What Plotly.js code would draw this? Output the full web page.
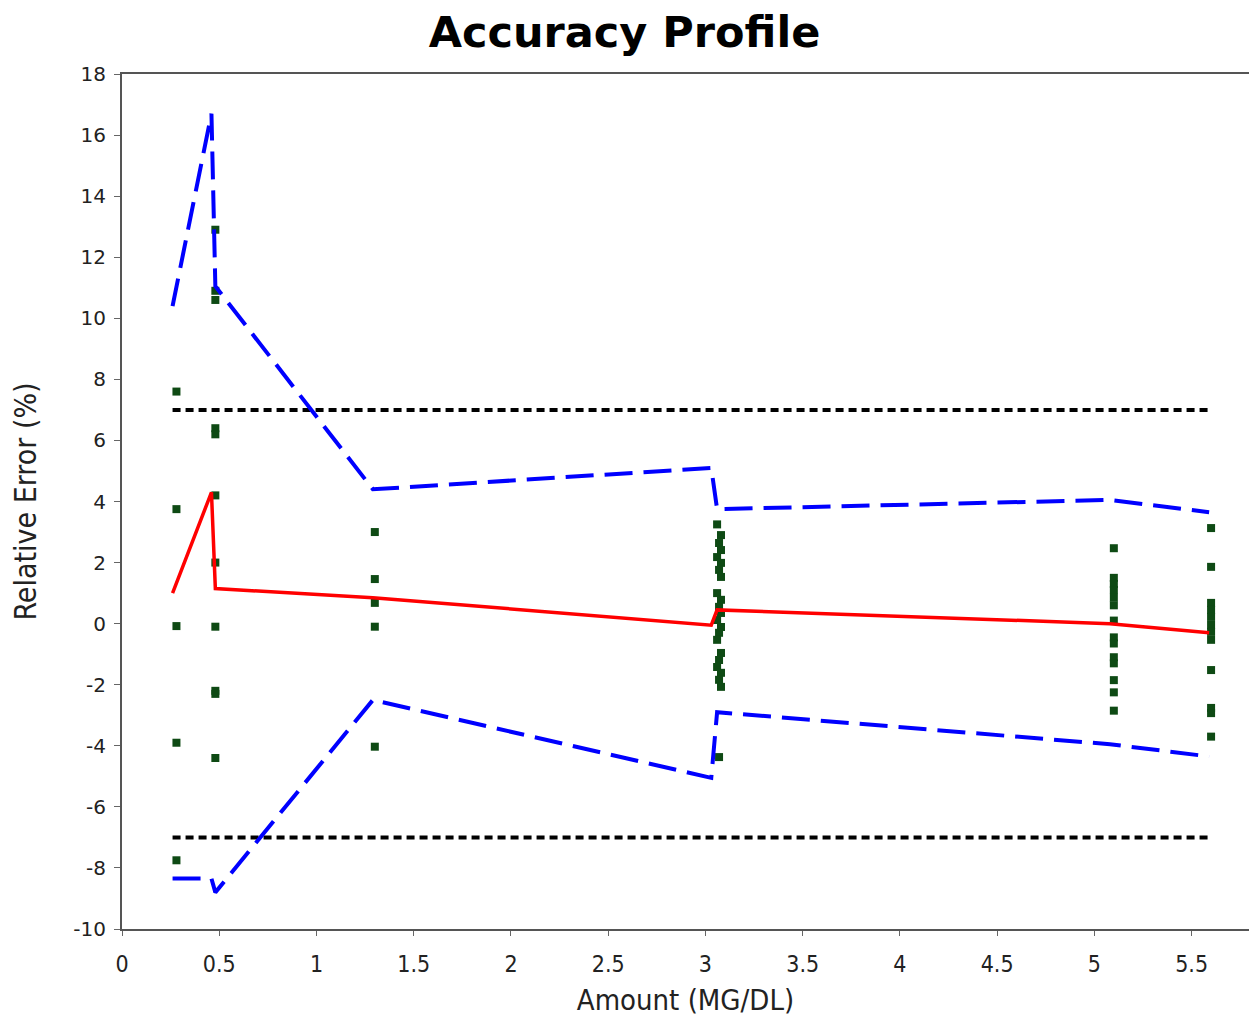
<!DOCTYPE html>
<html>
<head>
<meta charset="utf-8">
<script src="https://cdn.plot.ly/plotly-3.0.1.min.js"></script>
<style>
  html, body { margin: 0; padding: 0; background: #ffffff; }
  #chart { width: 1249px; height: 1019px; }
</style>
</head>
<body>
<div id="chart"></div>
<script>
// ---- Data ----
// Level amounts used by the mean / tolerance-interval lines
const levelAmounts = [0.26, 0.46, 0.48, 1.29, 3.03, 3.06, 5.08, 5.59];
const meanError    = [1.0, 4.3, 1.15, 0.85, -0.05, 0.45, 0.0, -0.3];
const upperLimit   = [10.4, 16.7, 11.05, 4.4, 5.1, 3.75, 4.05, 3.65];
const lowerLimit   = [-8.35, -8.35, -8.8, -2.5, -5.05, -2.9, -3.95, -4.35];

// Acceptance limits (±7 %)
const acceptX      = [0.26, 5.6];
const acceptUpper  = [7, 7];
const acceptLower  = [-7, -7];

// Individual relative errors per level
const amounts1 = [0.28, 0.28, 0.28, 0.28, 0.28];
const errors1  = [7.6, 3.75, -0.08, -3.9, -7.75];

const amounts2 = [0.48, 0.48, 0.48, 0.48, 0.48, 0.48, 0.48, 0.48, 0.48, 0.48, 0.48];
const errors2  = [12.9, 10.9, 10.6, 6.4, 6.2, 4.2, 2.0, -0.1, -2.2, -2.3, -4.4];

const amounts3 = [1.3, 1.3, 1.3, 1.3, 1.3];
const errors3  = [3.0, 1.46, 0.68, -0.1, -4.03];

const amounts4 = [3.06, 3.08, 3.07, 3.08, 3.06, 3.08, 3.07, 3.08, 3.06, 3.08, 3.07, 3.08,
                  3.06, 3.08, 3.07, 3.06, 3.08, 3.07, 3.06, 3.08, 3.07, 3.08, 3.07];
const errors4  = [3.25, 2.9, 2.64, 2.41, 2.18, 1.99, 1.76, 1.53, 1.0, 0.78, 0.55, 0.35,
                  0.12, -0.11, -0.3, -0.53, -0.96, -1.19, -1.42, -1.61, -1.84, -2.07, -4.37];

const amounts5 = [5.1, 5.1, 5.1, 5.1, 5.1, 5.1, 5.1, 5.1, 5.1, 5.1, 5.1, 5.1, 5.1, 5.1];
const errors5  = [2.47, 1.5, 1.3, 1.1, 0.85, 0.6, 0.1, -0.45, -0.65, -1.1, -1.3, -1.85, -2.25, -2.85];

const amounts6 = [5.6, 5.6, 5.6, 5.6, 5.6, 5.6, 5.6, 5.6, 5.6, 5.6, 5.6, 5.6];
const errors6  = [3.13, 1.86, 0.68, 0.45, 0.22, -0.04, -0.27, -0.53, -1.52, -2.76, -2.93, -3.7];

// Axis tick labels
const xTickVals = [0, 0.5, 1, 1.5, 2, 2.5, 3, 3.5, 4, 4.5, 5, 5.5];
const yTickVals = [18, 16, 14, 12, 10, 8, 6, 4, 2, 0, -2, -4, -6, -8, -10];

// ---- Traces ----
const dotAmounts = [].concat(amounts1, amounts2, amounts3, amounts4, amounts5, amounts6);
const dotErrors  = [].concat(errors1, errors2, errors3, errors4, errors5, errors6);

const traces = [
  {
    x: acceptX, y: acceptUpper, mode: 'lines', showlegend: false, hoverinfo: 'skip',
    line: { color: '#000000', width: 4, dash: '8px,5px' }
  },
  {
    x: acceptX, y: acceptLower, mode: 'lines', showlegend: false, hoverinfo: 'skip',
    line: { color: '#000000', width: 4, dash: '8px,5px' }
  },
  {
    x: dotAmounts, y: dotErrors, mode: 'markers', showlegend: false,
    marker: { symbol: 'square', size: 8, color: '#0e4a14' }
  },
  {
    x: levelAmounts, y: upperLimit, mode: 'lines', showlegend: false,
    line: { color: '#0000ff', width: 4, dash: '28px,11px' }
  },
  {
    x: levelAmounts, y: lowerLimit, mode: 'lines', showlegend: false,
    line: { color: '#0000ff', width: 4, dash: '28px,11px' }
  },
  {
    x: levelAmounts, y: meanError, mode: 'lines', showlegend: false,
    line: { color: '#ff0000', width: 3.5 }
  }
];

const narrowFamily = 'Liberation Sans Narrow, DejaVu Sans Condensed, Roboto, sans-serif';
const tickFontY = { family: 'DejaVu Sans, Verdana, sans-serif', size: 20, color: '#222222' };
const tickFontX = { family: narrowFamily, size: 23, color: '#222222' };

const layout = {
  width: 1249,
  height: 1019,
  paper_bgcolor: '#ffffff',
  plot_bgcolor: '#ffffff',
  margin: { l: 122, r: 0, t: 74, b: 90, pad: 0 },
  title: {
    text: '<b>Accuracy Profile</b>',
    font: { family: 'DejaVu Sans, Verdana, sans-serif', size: 43, color: '#000000' },
    x: 0.5, xref: 'container', xanchor: 'center',
    y: 0.969, yref: 'container', yanchor: 'middle'
  },
  xaxis: {
    range: [0, 5.795],
    tickvals: xTickVals,
    ticktext: xTickVals.map(String),
    ticks: 'outside', ticklen: 5, tickcolor: '#666666', tickwidth: 1,
    ticklabelstandoff: 8,
    showgrid: false, zeroline: false,
    showline: true, linecolor: '#555555', linewidth: 2, mirror: true,
    tickfont: tickFontX,
    title: {
      text: 'Amount (MG/DL)',
      font: { family: narrowFamily, size: 29, color: '#222222' },
      standoff: 14
    }
  },
  yaxis: {
    range: [-10, 18],
    tickvals: yTickVals,
    ticktext: yTickVals.map(String),
    ticks: 'outside', ticklen: 6, tickcolor: '#666666', tickwidth: 1,
    ticklabelstandoff: 4,
    showgrid: false, zeroline: false,
    showline: true, linecolor: '#555555', linewidth: 2,
    tickfont: tickFontY,
    title: {
      text: 'Relative Error (%)',
      font: { family: narrowFamily, size: 30, color: '#222222' },
      standoff: 28
    }
  }
};

Plotly.newPlot('chart', traces, layout, { displayModeBar: false, staticPlot: true });
</script>
</body>
</html>
